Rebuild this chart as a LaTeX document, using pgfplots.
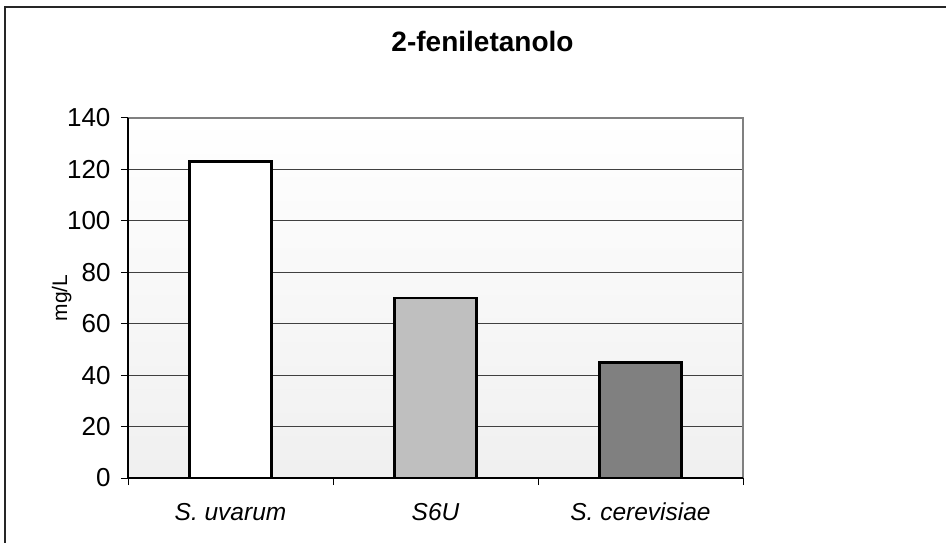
\documentclass[border=0pt]{standalone}
\usepackage{fontspec}
\setmainfont{Liberation Sans}
\usepackage{pgfplots}
\pgfplotsset{compat=1.18}
\begin{document}
\begin{tikzpicture}
\useasboundingbox (0pt,0pt) rectangle (946pt,542pt);
\draw[black!85, line width=2pt] (5pt,-20pt) rectangle (962pt,535pt);
\node[anchor=base] at (482.5pt,490.3pt) {\bfseries\fontsize{28}{31}\selectfont 2-feniletanolo};
\begin{axis}[
  at={(128pt,64pt)}, anchor=south west,
  scale only axis, width=615pt, height=360pt,
  xmin=-0.5, xmax=2.5, ymin=0, ymax=140,
  axis line style={draw=none},
  axis background/.style={top color=white, bottom color=black!6},
  ytick={0,20,...,140},
  xtick={-0.5,0.5,1.5,2.5},
  xticklabels={S. uvarum, S6U, S. cerevisiae},
  x tick label as interval,
  xtick pos=bottom, ytick pos=left,
  tick align=outside,
  major tick length=7pt,
  tick style={black, line width=1pt},
  ymajorgrids,
  major grid style={black!75, line width=1pt},
  /pgf/number format/assume math mode=true,
  yticklabel style={font=\fontsize{26}{29}\selectfont, xshift=-7pt},
  xticklabel style={font=\itshape\fontsize{24.5}{27}\selectfont, anchor=north, text height=18pt, text depth=0pt, yshift=-14pt},
  ylabel={mg/L},
  ylabel style={font=\fontsize{21}{24}\selectfont, at={(axis description cs:0,0.5)}, anchor=base, yshift=61pt, xshift=0pt},
  clip=false,
]
\addplot[ybar, bar width=82pt, bar shift=0pt, fill=white, draw=black, line width=2.8pt] coordinates {(0,123)};
\addplot[ybar, bar width=82pt, bar shift=0pt, fill=black!25, draw=black, line width=2.8pt] coordinates {(1,70)};
\addplot[ybar, bar width=82pt, bar shift=0pt, fill=black!50, draw=black, line width=2.8pt] coordinates {(2,45)};
\draw[black!50, line width=2pt] (rel axis cs:0,1) -- (rel axis cs:1,1) -- (rel axis cs:1,0);
\draw[black, line width=1.5pt] (rel axis cs:0,1) -- (rel axis cs:0,0) -- (rel axis cs:1,0);
\end{axis}
\end{tikzpicture}
\end{document}
